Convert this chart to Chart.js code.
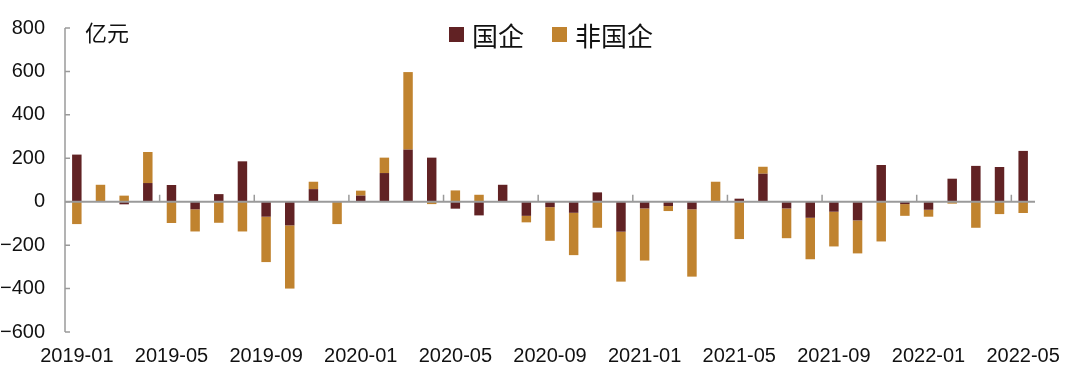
<!DOCTYPE html>
<html lang="zh">
<head>
<meta charset="utf-8">
<title>国企 / 非国企</title>
<script src="https://cdn.jsdelivr.net/npm/chart.js@4/dist/chart.umd.min.js"></script>
<style>
    html, body { margin: 0; padding: 0; background: #fff; }
    #wrap { position: relative; width: 1080px; height: 371px; }
    #unit {
        position: absolute; left: 85px; top: 15px;
        font: 22px "Noto Sans CJK SC", sans-serif; color: #111;
    }
    #legend {
        position: absolute; left: 449px; top: 16px;
        font: 26px "Noto Sans CJK SC", sans-serif; color: #111;
        display: flex; align-items: center; white-space: nowrap;
    }
    #legend .box { display: inline-block; width: 15px; height: 15px; margin-right: 8px; }
    #legend .item { display: flex; align-items: center; margin-right: 28px; }
</style>
</head>
<body>
<div id="wrap">
    <canvas id="chart" width="1080" height="371"></canvas>
    <div id="unit">亿元</div>
    <div id="legend"></div>
</div>
<script>
// months 2019-01 .. 2022-05
const months = [
    "2019-01", "2019-02", "2019-03", "2019-04", "2019-05", "2019-06", "2019-07", "2019-08", "2019-09", "2019-10", "2019-11", "2019-12",
    "2020-01", "2020-02", "2020-03", "2020-04", "2020-05", "2020-06", "2020-07", "2020-08", "2020-09", "2020-10", "2020-11", "2020-12",
    "2021-01", "2021-02", "2021-03", "2021-04", "2021-05", "2021-06", "2021-07", "2021-08", "2021-09", "2021-10", "2021-11", "2021-12",
    "2022-01", "2022-02", "2022-03", "2022-04", "2022-05"
];

// 国企
const soe = [
    217, 0, -12, 86, 77, -35, 35, 186, -69, -109, 58, 0,
    28, 132, 240, 203, -32, -63, 78, -65, -25, -51, 43, -138,
    -31, -20, -35, 0, 14, 129, -31, -74, -46, -86, 169, -11,
    -37, 106, 165, 160, 234
];

// 非国企
const nonSoe = [
    -103, 78, 28, 143, -98, -102, -97, -137, -209, -291, 34, -103,
    23, 71, 357, -11, 52, 32, 0, -30, -155, -195, -120, -230,
    -240, -23, -310, 92, -172, 32, -137, -191, -160, -152, -183, -54,
    -32, -9, -120, -57, -52
];

const yTicks = [-600, -400, -200, 0, 200, 400, 600, 800];
const labelEvery = 4;

const seriesNames = ["国企", "非国企"];
const seriesColors = ["#612224", "#c0832f"];

document.addEventListener("DOMContentLoaded", () => {
    // html legend, sits over the plot like in the original
    const legend = document.getElementById("legend");
    seriesNames.forEach((name, i) => {
        const item = document.createElement("span");
        item.className = "item";
        item.innerHTML = `<span class="box" style="background:${seriesColors[i]}"></span>${name}`;
        legend.appendChild(item);
    });

    // zero line with short ticks + inward y ticks
    const axisDecor = {
        id: "axisDecor",
        afterDatasetsDraw(chart) {
            const { ctx, chartArea, scales } = chart;
            const x = scales.x, y = scales.y;
            const y0 = y.getPixelForValue(0);
            ctx.save();
            ctx.strokeStyle = "#9a9a9a";

            // y axis line
            ctx.lineWidth = 1.5;
            ctx.beginPath();
            ctx.moveTo(chartArea.left, y.getPixelForValue(800));
            ctx.lineTo(chartArea.left, y.getPixelForValue(-600));
            yTicks.forEach(v => {
                const py = y.getPixelForValue(v);
                ctx.moveTo(chartArea.left, py);
                ctx.lineTo(chartArea.left + 5, py);
            });
            ctx.stroke();

            // zero line
            ctx.lineWidth = 2;
            ctx.beginPath();
            ctx.moveTo(chartArea.left, y0);
            ctx.lineTo(chartArea.right, y0);
            ctx.stroke();

            // ticks between categories every 4 months
            ctx.lineWidth = 1.5;
            ctx.beginPath();
            for (let i = labelEvery; i < months.length; i += labelEvery) {
                const px = (x.getPixelForValue(i - 1) + x.getPixelForValue(i)) / 2;
                ctx.moveTo(px, y0);
                ctx.lineTo(px, y0 - 7);
            }
            ctx.stroke();
            ctx.restore();
        }
    };

    const ctx = document.getElementById("chart").getContext("2d");

    new Chart(ctx, {
        type: "bar",
        data: {
            labels: months,
            datasets: [
                { label: seriesNames[0], data: soe, backgroundColor: seriesColors[0] },
                { label: seriesNames[1], data: nonSoe, backgroundColor: seriesColors[1] }
            ]
        },
        options: {
            responsive: false,
            animation: false,
            barPercentage: 0.4,
            categoryPercentage: 1.0,
            layout: { padding: { top: 28, right: 45, left: 0, bottom: 0 } },
            plugins: {
                legend: { display: false },
                tooltip: { enabled: false }
            },
            scales: {
                x: {
                    stacked: true,
                    grid: { display: false, drawTicks: false },
                    border: { display: false },
                    ticks: {
                        autoSkip: false,
                        maxRotation: 0,
                        padding: 12,
                        color: "#111",
                        font: { family: "'Liberation Sans', Arial, sans-serif", size: 20 },
                        callback: (v, i) => (i % labelEvery === 0 ? months[i] : "")
                    },
                    afterFit: (s) => { s.height = 39; }
                },
                y: {
                    stacked: true,
                    min: -600,
                    max: 800,
                    grid: { display: false, drawTicks: false },
                    border: { display: false },
                    afterBuildTicks: (s) => { s.ticks = yTicks.map(v => ({ value: v })); },
                    ticks: {
                        padding: 20,
                        color: "#111",
                        // small lineHeight keeps the axis from reserving extra room at top
                        font: { family: "'Liberation Sans', Arial, sans-serif", size: 20, lineHeight: 0.4 },
                        callback: (v) => (v < 0 ? "\u2212" + Math.abs(v) : String(v))
                    },
                    afterFit: (s) => { s.width = 65; }
                }
            }
        },
        plugins: [axisDecor]
    });
});
</script>
</body>
</html>
